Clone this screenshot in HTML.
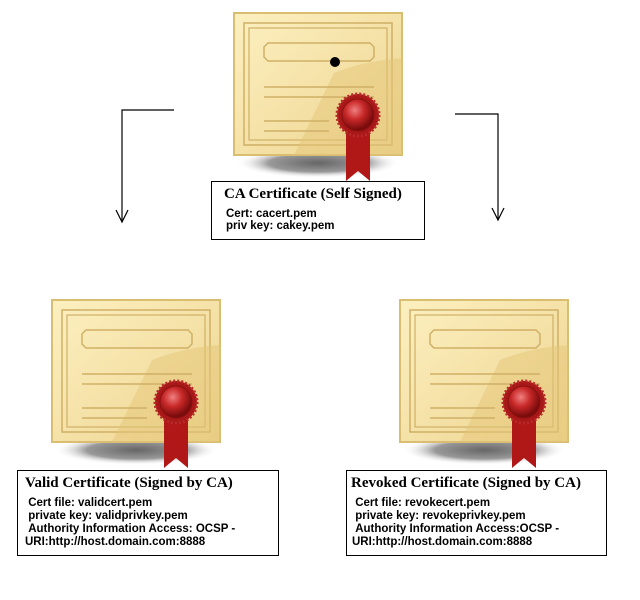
<!DOCTYPE html>
<html><head><style>
body{margin:0;background:#fff;width:640px;height:600px;overflow:hidden;position:relative;font-family:"Liberation Sans",sans-serif}
.box{position:absolute;border:1px solid #000;background:#fff;box-sizing:border-box}
.t{font-family:"Liberation Serif",serif;font-size:15px;font-weight:bold;color:#000;white-space:nowrap}
.s{font-size:11.5px;font-weight:bold;line-height:12px;white-space:nowrap}
</style></head><body>
<svg width="640" height="600" style="position:absolute;left:0;top:0">
<defs>
<radialGradient id="sh" cx="50%" cy="50%" r="50%"><stop offset="0" stop-color="#666"/><stop offset="0.6" stop-color="#999"/><stop offset="1" stop-color="#fff" stop-opacity="0"/></radialGradient>
<linearGradient id="pg" x1="0" y1="0" x2="1" y2="1"><stop offset="0" stop-color="#fcf0c0"/><stop offset="1" stop-color="#eed490"/></linearGradient>
<radialGradient id="seal" cx="40%" cy="35%" r="60%"><stop offset="0" stop-color="#f08080"/><stop offset="0.5" stop-color="#c82828"/><stop offset="1" stop-color="#7a0c0c"/></radialGradient>
<g id="cert">
<ellipse cx="84" cy="150" rx="82" ry="15" fill="url(#sh)"/>
<rect x="0" y="0" width="168" height="142" fill="url(#pg)" stroke="#d9bd70" stroke-width="2"/>
<rect x="10" y="10" width="148" height="122" fill="none" stroke="#cfb066" stroke-width="1.5"/>
<rect x="15" y="15" width="138" height="112" fill="none" stroke="#cfb066" stroke-width="1.2"/>
<path d="M30 34 L34 30 L136 30 L140 34 L140 44 L136 48 L34 48 L30 44 Z" fill="none" stroke="#cfb066" stroke-width="1.5"/>
<path d="M100 60 Q130 48 168 45 L168 142 L60 142 Z" fill="#e3c678" opacity="0.5"/>
<line x1="30" y1="74" x2="140" y2="74" stroke="#cfb066" stroke-width="1.5"/>
<line x1="30" y1="84" x2="140" y2="84" stroke="#cfb066" stroke-width="1.5"/>
<line x1="30" y1="108" x2="95" y2="108" stroke="#cfb066" stroke-width="1.5"/>
<line x1="30" y1="118" x2="95" y2="118" stroke="#cfb066" stroke-width="1.5"/>
<path d="M112 115 L112 168 L124 158 L136 168 L136 115 Z" fill="#b01818"/>
<circle cx="124" cy="102" r="21" fill="#a81818" stroke="#b82a2a" stroke-width="3" stroke-dasharray="2 2"/>
<circle cx="124" cy="102" r="16" fill="url(#seal)" stroke="#8a1010" stroke-width="1"/>
</g>
</defs>
<use href="#cert" x="234" y="13"/>
<circle cx="335" cy="62" r="5" fill="#000"/>
<use href="#cert" x="52" y="300"/>
<use href="#cert" x="400" y="300"/>
<g stroke="#000" stroke-width="1.2" fill="none">
<polyline points="174,110 122,110 122,222"/>
<polyline points="116,210 122,222 128,210"/>
<polyline points="455,114 498,114 498,220"/>
<polyline points="492,208 498,220 504,208"/>
</g>
</svg>
<div class="box" style="left:211px;top:181px;width:214px;height:59px">
<div class="t" style="position:absolute;left:12px;top:4px">CA Certificate (Self Signed)</div>
<div class="s" style="position:absolute;left:14px;top:26px">Cert: cacert.pem<br>priv key: cakey.pem</div>
</div>
<div class="box" style="left:17px;top:470px;width:262px;height:86px">
<div class="t" style="position:absolute;left:7px;top:4px">Valid Certificate (Signed by CA)</div>
<div class="s" style="position:absolute;left:7px;top:26px;line-height:13px">&nbsp;Cert file: validcert.pem<br>&nbsp;private key: validprivkey.pem<br>&nbsp;Authority Information Access: OCSP -<br>URI:http://host.domain.com:8888</div>
</div>
<div class="box" style="left:346px;top:470px;width:261px;height:86px">
<div class="t" style="position:absolute;left:4px;top:4px">Revoked Certificate (Signed by CA)</div>
<div class="s" style="position:absolute;left:5px;top:26px;line-height:13px">&nbsp;Cert file: revokecert.pem<br>&nbsp;private key: revokeprivkey.pem<br>&nbsp;Authority Information Access:OCSP -<br>URI:http://host.domain.com:8888</div>
</div>
</body></html>
